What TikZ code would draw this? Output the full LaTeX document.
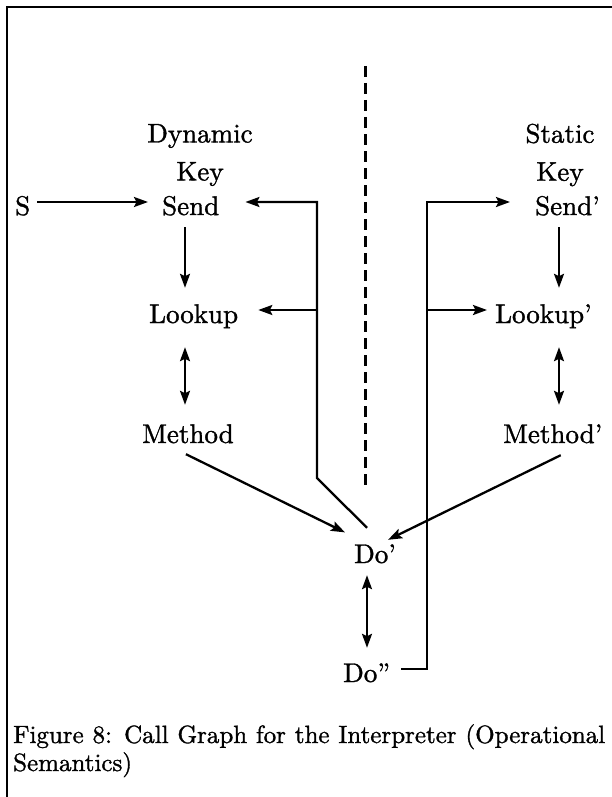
\documentclass[tikz,border=0pt]{standalone}
\usepackage{fontspec}
\setmainfont{lmroman10-regular.otf}[RawFeature={embolden=1.2}]
\usetikzlibrary{arrows.meta,calc}
\begin{document}
\begin{tikzpicture}[x=1pt,y=-1pt,
  lab/.style={inner sep=0pt, text height=26pt, text depth=0pt, font=\fontsize{27}{38}\selectfont},
  head/.style={inner sep=0pt, align=center, font=\fontsize{27}{38}\selectfont},
  wire/.style={line width=2.3pt},
  tip/.tip={Stealth[length=14pt,width=10pt,inset=2.5pt]},
  arr/.style={wire, -tip},
  dbl/.style={wire, tip-tip},
  divider/.style={line width=3pt, dash pattern=on 11pt off 6pt}]
\useasboundingbox (0,0) rectangle (612,797);

% frame (top and left edges only)
\draw[line width=2pt] (7,797) -- (7,7) -- (612,7);

% column headings
\node[head] (dyn) at (200,155) {Dynamic\\Key};
\node[head] (sta) at (560,155) {Static\\Key};

% labels, placed by their baselines
\node[lab, anchor=base west] (S)     at (15,215)  {S};
\node[lab, anchor=base west] (send)  at (162,215) {Send};
\node[lab, anchor=base west] (sendp) at (535,215) {Send'};
\node[lab, anchor=base west] (look)  at (149,323) {Lookup};
\node[lab, anchor=base west] (lookp) at (495,323) {Lookup'};
\node[lab, anchor=base west] (meth)  at (142,443) {Method};
\node[lab, anchor=base west] (methp) at (503,443) {Method'};
\node[lab, anchor=base west] (doa)   at (354,563) {Do'};
\node[lab, anchor=base west] (dob)   at (343,682) {Do''};

% vertical axes and rails
\coordinate (colL)  at (185,0);
\coordinate (colR)  at (559,0);
\coordinate (colD)  at (367,0);
\coordinate (kneeL) at (317,478);
\coordinate (railR) at (427,0);
\coordinate (dtop)  at (365,66);
\coordinate (dbot)  at (365,490);

% dashed divider
\draw[divider] (dtop) -- (dbot);

% dynamic side
\draw[arr, shorten <=7pt, shorten >=14pt] (S.east) -- (send.west);
\draw[arr, shorten <=12pt, shorten >=9pt] (send.south -| colL) -- (look.north -| colL);
\draw[dbl, shorten <=24pt, shorten >=12pt] (look.south -| colL) -- (meth.north -| colL);

% static side
\draw[arr, shorten <=12pt, shorten >=9pt] (sendp.south -| colR) -- (lookp.north -| colR);
\draw[dbl, shorten <=24pt, shorten >=12pt] (lookp.south -| colR) -- (methp.north -| colR);

% into Do'
\draw[arr, shorten >=10pt] ($(meth.south)+(-2,11)$) -- (doa.north west);
\draw[arr] ($(methp.south)+(8,12)$) -- ($(doa.north east)+(-8,3)$);
\draw[dbl, shorten <=12pt, shorten >=8pt] (doa.south -| colD) -- (dob.north -| colD);

% Do' back to Send and Lookup
\draw[arr, shorten >=26pt] ($(doa.north -| colD)+(0,-9)$) -- (kneeL) |- (send.east);
\draw[arr, shorten >=20pt] (kneeL |- look.east) -- (look.east);

% Do'' over to Send' and Lookup'
\draw[arr, shorten <=11pt, shorten >=25pt] (dob.east) -- (dob.east -| railR) |- (sendp.west);
\draw[arr, shorten >=8pt] (railR |- lookp.west) -- (lookp.west);

% caption
\node[anchor=base west, inner sep=0pt, font=\fontsize{25}{28}\selectfont] (cap) at (13,743)
  {\parbox[t]{592pt}{\hyphenpenalty=10000 \exhyphenpenalty=10000
   Figure 8: Call Graph for the Interpreter (Operational Semantics)}};
\end{tikzpicture}
\end{document}
